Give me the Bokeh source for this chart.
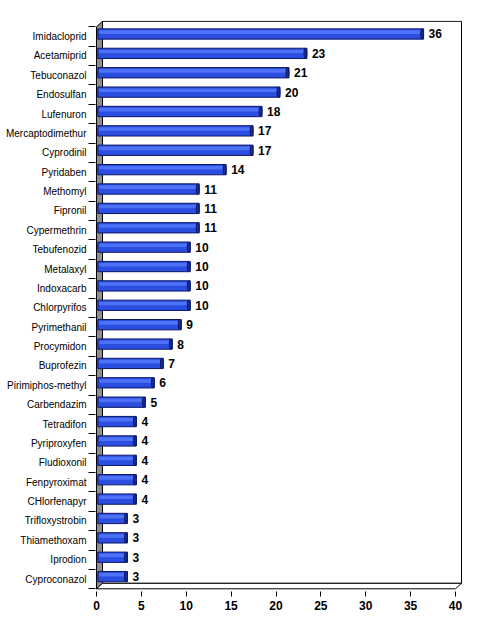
from bokeh.plotting import figure
from bokeh.models import Range1d, FixedTicker, ColumnDataSource
from bokeh.embed import file_html
from bokeh.resources import INLINE
from bokeh.core.properties import value

categories = ["Imidacloprid", "Acetamiprid", "Tebuconazol", "Endosulfan", "Lufenuron",
              "Mercaptodimethur", "Cyprodinil", "Pyridaben", "Methomyl", "Fipronil",
              "Cypermethrin", "Tebufenozid", "Metalaxyl", "Indoxacarb", "Chlorpyrifos",
              "Pyrimethanil", "Procymidon", "Buprofezin", "Pirimiphos-methyl", "Carbendazim",
              "Tetradifon", "Pyriproxyfen", "Fludioxonil", "Fenpyroximat", "CHlorfenapyr",
              "Trifloxystrobin", "Thiamethoxam", "Iprodion", "Cyproconazol"]
counts = [36, 23, 21, 20, 18, 17, 17, 14, 11, 11, 11, 10, 10, 10, 10, 9, 8, 7, 6, 5,
          4, 4, 4, 4, 4, 3, 3, 3, 3]
x_ticks = [0, 5, 10, 15, 20, 25, 30, 35, 40]

N = len(categories)
XMAX = 40
PXX = 8.975          # px per x unit
PXY = 562.0 / N      # px per category
# frame placement (frame: x 95..464, y 20..591)
x_start = -1.0 / PXX
x_end = (464 - 96) / PXX
y_top = -0.5 - 6.3 / PXY
y_bot = N - 0.5 + 2.7 / PXY

depth_x = 6.0 / PXX
depth_y = 5.5 / PXY
bar_dx = 4.0 / PXX
bar_dy = 2.5 / PXY
bar_h = 10.3 / PXY
cap_w = 3.0 / PXX

p = figure(width=478, height=627, output_backend="svg", toolbar_location=None,
           x_range=Range1d(x_start, x_end), y_range=Range1d(y_bot, y_top),
           min_border_left=95, min_border_right=14, min_border_top=20, min_border_bottom=36)
p.outline_line_color = None
p.grid.visible = False
p.background_fill_color = "white"

ypos = list(range(N))

# back wall
p.quad(left=[depth_x], right=[XMAX + depth_x], top=[-0.5 - depth_y], bottom=[N - 0.5 - depth_y],
       fill_color="white", line_color="black", line_width=1)
# left side wall
p.patch([0, depth_x, depth_x, 0], [-0.5, -0.5 - depth_y, N - 0.5 - depth_y, N - 0.5],
        fill_color="#8f8f8f", line_color="black", line_width=1)
# floor
p.patch([0, depth_x, XMAX + depth_x, XMAX], [N - 0.5, N - 0.5 - depth_y, N - 0.5 - depth_y, N - 0.5],
        fill_color="white", line_color="black", line_width=1)

src = ColumnDataSource(dict(
    y=[v - bar_dy for v in ypos],
    yh=[v - bar_dy - bar_h * 0.18 for v in ypos],
    right=[c + bar_dx for c in counts],
    capx=[c + bar_dx - cap_w / 2 for c in counts],
    labx=[c + bar_dx for c in counts],
    lab=[str(c) for c in counts],
))

p.hbar(y="y", left=0.15, right="right", height=bar_h, source=src,
       fill_color="#2b4de0", line_color="#0c1766", line_width=1)
p.hbar(y="yh", left=0.3, right="capx", height=bar_h * 0.35, source=src,
       fill_color="#4d72f7", line_color=None)
p.ellipse(x="capx", y="y", width=cap_w, height=bar_h, source=src,
          fill_color="#1a2d95", line_color="#0c1766", line_width=1)

p.text(x="labx", y="y", text="lab", source=src, x_offset=5,
       text_font=value("Liberation Sans"), text_font_style="bold",
       text_font_size="12px", text_baseline="middle", text_align="left", text_color="black")

# y axis
ya = p.yaxis[0]
ya.ticker = FixedTicker(ticks=ypos, minor_ticks=[i - 0.5 for i in range(N + 1)])
ya.major_label_overrides = {i: categories[i] for i in ypos}
ya.major_tick_out = 0
ya.major_tick_in = 0
ya.minor_tick_out = 7
ya.minor_tick_in = 0
ya.minor_tick_line_color = "black"
ya.axis_line_color = None
ya.major_label_standoff = 2
ya.major_label_text_font = "Liberation Sans"
ya.major_label_text_font_size = "10px"
ya.major_label_text_color = "black"

xa = p.xaxis[0]
xa.ticker = FixedTicker(ticks=x_ticks)
xa.minor_tick_out = 0
xa.minor_tick_in = 0
xa.major_tick_out = 5
xa.major_tick_in = 0
xa.major_tick_line_color = "black"
xa.axis_line_color = None
xa.major_label_standoff = 4
xa.major_label_text_font = "Liberation Sans"
xa.major_label_text_font_style = "bold"
xa.major_label_text_font_size = "12px"
xa.major_label_text_color = "black"

open("out.html", "w").write(file_html(p, INLINE))
